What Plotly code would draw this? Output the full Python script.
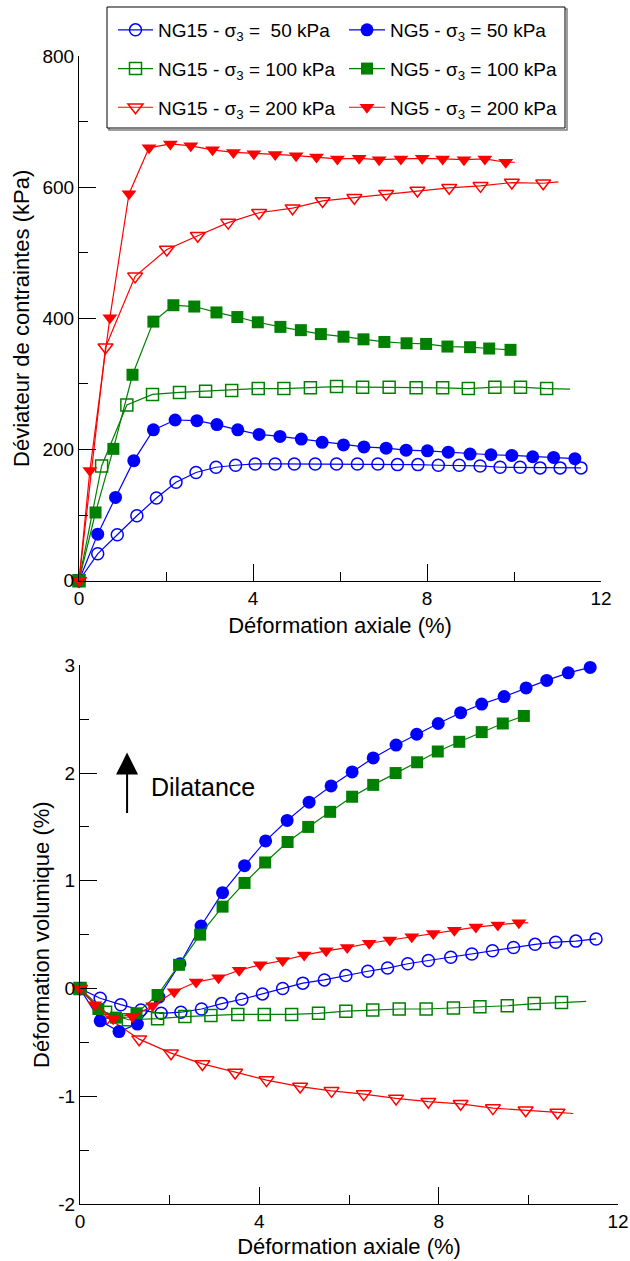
import plotly.graph_objects as go

# ---------------- Data: top chart (deviator stress, kPa) ----------------
ng15_50_x = [0, 0.43, 0.88, 1.33, 1.78, 2.23, 2.69, 3.15, 3.60, 4.05, 4.51, 4.95, 5.43, 5.92, 6.40, 6.87, 7.32, 7.79, 8.26, 8.74, 9.22, 9.68, 10.14, 10.60, 11.06, 11.54]
ng15_50_q = [0, 41, 70, 99, 126, 150, 165, 173, 176, 178, 178, 178, 178, 178, 178, 178, 177, 177, 176, 176, 175, 173, 173, 172, 172, 172]

ng15_100_x = [0, 0.52, 1.10, 1.69, 2.31, 2.91, 3.51, 4.12, 4.71, 5.32, 5.92, 6.52, 7.13, 7.75, 8.36, 8.95, 9.56, 10.15, 10.75]
ng15_100_q = [0, 175, 268, 284, 287, 289, 290, 293, 293, 294, 296, 295, 295, 294, 294, 293, 295, 295, 293]
ng15_100_q_end = (11.29, 292)

ng15_200_x = [0, 0.61, 1.29, 2.02, 2.73, 3.43, 4.14, 4.91, 5.60, 6.33, 7.06, 7.78, 8.51, 9.23, 9.95, 10.67]
ng15_200_q = [0, 356, 464, 505, 526, 546, 561, 568, 579, 584, 590, 595, 599, 602, 607, 606]
ng15_200_q_end = (11.02, 608)

ng5_50_x = [0, 0.43, 0.84, 1.26, 1.71, 2.21, 2.71, 3.17, 3.65, 4.14, 4.62, 5.11, 5.59, 6.08, 6.55, 7.06, 7.52, 8.01, 8.49, 8.99, 9.47, 9.95, 10.43, 10.91, 11.40]
ng5_50_q = [0, 71, 127, 183, 230, 245, 244, 238, 230, 223, 220, 216, 211, 207, 204, 202, 199, 198, 196, 193, 192, 191, 189, 188, 186]

ng5_100_x = [0, 0.38, 0.79, 1.23, 1.71, 2.17, 2.65, 3.16, 3.64, 4.11, 4.63, 5.10, 5.56, 6.08, 6.54, 7.02, 7.53, 7.98, 8.47, 8.99, 9.43, 9.92]
ng5_100_q = [0, 104, 201, 314, 395, 420, 418, 409, 402, 394, 387, 382, 376, 372, 368, 364, 362, 361, 357, 356, 354, 352]

ng5_200_x = [0, 0.25, 0.71, 1.15, 1.61, 2.10, 2.57, 3.07, 3.55, 4.02, 4.51, 4.99, 5.46, 5.94, 6.44, 6.90, 7.40, 7.89, 8.36, 8.85, 9.33, 9.81]
ng5_200_q = [0, 168, 401, 590, 660, 666, 663, 657, 653, 651, 650, 648, 646, 643, 644, 642, 643, 644, 643, 642, 643, 638]
ng5_200_q_end = (10.02, 638)

# ---------------- Data: bottom chart (volumetric strain, %) ----------------
ng15_50_ev_x = [0, 0.45, 0.91, 1.36, 1.81, 2.25, 2.71, 3.16, 3.61, 4.07, 4.52, 4.97, 5.45, 5.93, 6.42, 6.86, 7.31, 7.77, 8.27, 8.74, 9.20, 9.67, 10.15, 10.61, 11.06, 11.51]
ng15_50_ev = [0, -0.09, -0.15, -0.20, -0.23, -0.22, -0.19, -0.14, -0.10, -0.05, 0.00, 0.05, 0.08, 0.12, 0.16, 0.19, 0.23, 0.26, 0.29, 0.32, 0.35, 0.38, 0.41, 0.43, 0.44, 0.46]

ng15_100_ev_x = [0, 0.57, 1.08, 1.73, 2.34, 2.92, 3.52, 4.11, 4.72, 5.32, 5.93, 6.53, 7.12, 7.72, 8.33, 8.92, 9.53, 10.13, 10.74]
ng15_100_ev = [0, -0.22, -0.29, -0.28, -0.26, -0.25, -0.24, -0.24, -0.24, -0.23, -0.21, -0.20, -0.19, -0.19, -0.18, -0.17, -0.16, -0.14, -0.13]
ng15_100_ev_end = (11.29, -0.12)

ng15_200_ev_x = [0, 0.61, 1.32, 2.03, 2.73, 3.46, 4.16, 4.91, 5.61, 6.33, 7.05, 7.77, 8.49, 9.21, 9.94, 10.65]
ng15_200_ev = [0, -0.27, -0.47, -0.60, -0.70, -0.78, -0.85, -0.91, -0.95, -0.98, -1.02, -1.05, -1.07, -1.11, -1.13, -1.15]
ng15_200_ev_end = (11.0, -1.16)

ng5_50_ev_x = [0, 0.45, 0.87, 1.28, 1.76, 2.23, 2.70, 3.18, 3.67, 4.14, 4.62, 5.11, 5.60, 6.07, 6.54, 7.05, 7.51, 7.99, 8.49, 8.96, 9.46, 9.95, 10.41, 10.89, 11.38]
ng5_50_ev = [0, -0.30, -0.40, -0.33, -0.08, 0.23, 0.58, 0.89, 1.14, 1.37, 1.56, 1.73, 1.88, 2.01, 2.14, 2.26, 2.36, 2.46, 2.56, 2.64, 2.71, 2.79, 2.86, 2.93, 2.98]

ng5_100_ev_x = [0, 0.41, 0.80, 1.26, 1.73, 2.21, 2.68, 3.18, 3.67, 4.13, 4.63, 5.09, 5.58, 6.07, 6.54, 7.04, 7.52, 7.98, 8.46, 8.96, 9.43, 9.90]
ng5_100_ev = [0, -0.19, -0.27, -0.23, -0.06, 0.22, 0.50, 0.76, 0.98, 1.17, 1.36, 1.50, 1.64, 1.78, 1.89, 2.00, 2.10, 2.20, 2.29, 2.38, 2.46, 2.53]

ng5_200_ev_x = [0, 0.33, 0.74, 1.17, 1.62, 2.10, 2.59, 3.09, 3.55, 4.02, 4.52, 5.00, 5.49, 5.96, 6.45, 6.91, 7.40, 7.88, 8.35, 8.83, 9.32, 9.79]
ng5_200_ev = [0, -0.15, -0.28, -0.26, -0.16, -0.03, 0.06, 0.10, 0.17, 0.22, 0.26, 0.31, 0.35, 0.38, 0.42, 0.45, 0.48, 0.51, 0.54, 0.57, 0.59, 0.61]
ng5_200_ev_end = (10.0, 0.61)

# ---------------- Tick labels ----------------
x_ticks = [0, 4, 8, 12]
x_minor = [2, 6, 10]
q_ticks = [0, 200, 400, 600, 800]
q_minor = [100, 300, 500, 700]
ev_ticks = [-2, -1, 0, 1, 2, 3]
ev_ticktext = ["-2", "-1", "0", "1", "2", "3"]
ev_minor = [-1.5, -0.5, 0.5, 1.5, 2.5]

labels = {
    "ng15_50": "NG15 - σ<sub>3</sub> =  50 kPa",
    "ng15_100": "NG15 - σ<sub>3</sub> = 100 kPa",
    "ng15_200": "NG15 - σ<sub>3</sub> = 200 kPa",
    "ng5_50": "NG5 - σ<sub>3</sub> = 50 kPa",
    "ng5_100": "NG5 - σ<sub>3</sub> = 100 kPa",
    "ng5_200": "NG5 - σ<sub>3</sub> = 200 kPa",
}

BLUE, GREEN, RED = "#0000FF", "#008000", "#FF0000"
FONT = "Arial, Liberation Sans, sans-serif"

styles = {
    "ng15_50": dict(color=BLUE, symbol="circle-open", size=12, legend="legend"),
    "ng15_100": dict(color=GREEN, symbol="square-open", size=12, legend="legend"),
    "ng15_200": dict(color=RED, symbol="triangle-down-open", size=13, legend="legend"),
    "ng5_50": dict(color=BLUE, symbol="circle", size=13, legend="legend2"),
    "ng5_100": dict(color=GREEN, symbol="square", size=12, legend="legend2"),
    "ng5_200": dict(color=RED, symbol="triangle-down", size=13, legend="legend2"),
}

top_series = [
    ("ng15_50", ng15_50_x, ng15_50_q, None),
    ("ng15_100", ng15_100_x, ng15_100_q, ng15_100_q_end),
    ("ng15_200", ng15_200_x, ng15_200_q, ng15_200_q_end),
    ("ng5_50", ng5_50_x, ng5_50_q, None),
    ("ng5_100", ng5_100_x, ng5_100_q, None),
    ("ng5_200", ng5_200_x, ng5_200_q, ng5_200_q_end),
]
bottom_series = [
    ("ng15_50", ng15_50_ev_x, ng15_50_ev, None),
    ("ng15_100", ng15_100_ev_x, ng15_100_ev, ng15_100_ev_end),
    ("ng15_200", ng15_200_ev_x, ng15_200_ev, ng15_200_ev_end),
    ("ng5_50", ng5_50_ev_x, ng5_50_ev, None),
    ("ng5_100", ng5_100_ev_x, ng5_100_ev, None),
    ("ng5_200", ng5_200_ev_x, ng5_200_ev, ng5_200_ev_end),
]

W, H = 630, 1261


def px(xp):
    return xp / W


def py(yp):
    return 1 - yp / H


fig = go.Figure()


def add_series(series, xa, ya, show):
    for key, xs, ys, end in series:
        st = styles[key]
        if end is not None:
            fig.add_trace(go.Scatter(
                x=[xs[-1], end[0]], y=[ys[-1], end[1]], mode="lines",
                line=dict(color=st["color"], width=1.2), showlegend=False,
                xaxis=xa, yaxis=ya, hoverinfo="skip", cliponaxis=False))
        open_sym = st["symbol"].endswith("open")
        fig.add_trace(go.Scatter(
            x=xs, y=ys, mode="lines+markers", name=labels[key],
            legend=st["legend"], legendgroup=key, showlegend=show,
            line=dict(color=st["color"], width=1.2),
            marker=dict(symbol=st["symbol"], size=st["size"], color=st["color"],
                        line=dict(width=1.5 if open_sym else 0, color=st["color"])),
            xaxis=xa, yaxis=ya, cliponaxis=False))


add_series(top_series, "x", "y", True)
add_series(bottom_series, "x2", "y2", False)

axis_common = dict(
    showline=True, linecolor="black", linewidth=1, mirror=False,
    ticks="inside", ticklen=17, tickwidth=1, tickcolor="black",
    showgrid=False, zeroline=False,
    tickfont=dict(family=FONT, size=19, color="black"),
    minor=dict(ticks="inside", ticklen=9, tickwidth=1, tickcolor="black", showgrid=False),
    automargin=False,
)
TITLE_FONT = dict(family=FONT, size=22, color="black")

fig.update_layout(
    width=W, height=H,
    margin=dict(l=0, r=0, t=0, b=0),
    paper_bgcolor="white", plot_bgcolor="white",
    font=dict(family=FONT, size=19, color="black"),
    xaxis=dict(axis_common, domain=[px(79), px(601)], range=[0, 12], tickvals=x_ticks,
               minor=dict(axis_common["minor"], tickvals=x_minor), anchor="y",
               title=dict(text="Déformation axiale (%)", font=TITLE_FONT, standoff=10)),
    yaxis=dict(axis_common, domain=[py(580.7), py(56)], range=[0, 800],
               tickvals=q_ticks,
               minor=dict(axis_common["minor"], tickvals=q_minor), anchor="x",
               title=dict(text="Déviateur de contraintes (kPa)", font=TITLE_FONT, standoff=6)),
    xaxis2=dict(axis_common, domain=[px(80), px(618)], range=[0, 12], tickvals=x_ticks,
                minor=dict(axis_common["minor"], tickvals=x_minor), anchor="y2",
                title=dict(text="Déformation axiale (%)", font=TITLE_FONT, standoff=7)),
    yaxis2=dict(axis_common, domain=[py(1204), py(665.3)], range=[-2, 3],
                tickvals=ev_ticks, ticktext=ev_ticktext,
                minor=dict(axis_common["minor"], tickvals=ev_minor), anchor="x2",
                title=dict(text="Déformation volumique (%)", font=TITLE_FONT, standoff=2)),
    legend=dict(x=px(113), y=py(11), xanchor="left", yanchor="top", itemwidth=35,
                bgcolor="rgba(0,0,0,0)", borderwidth=0, tracegroupgap=11,
                font=dict(family=FONT, size=19, color="black")),
    legend2=dict(x=px(344), y=py(11), xanchor="left", yanchor="top", itemwidth=36,
                 bgcolor="rgba(0,0,0,0)", borderwidth=0, tracegroupgap=11,
                 font=dict(family=FONT, size=19, color="black")),
    showlegend=True,
)

# legend frame with shadow
fig.add_shape(type="rect", xref="paper", yref="paper",
              x0=px(109), x1=px(567), y0=py(130), y1=py(9),
              line=dict(color="#808080", width=1.5), fillcolor="rgba(0,0,0,0)", layer="below")
fig.add_shape(type="rect", xref="paper", yref="paper",
              x0=px(107), x1=px(565), y0=py(128), y1=py(7),
              line=dict(color="black", width=1), fillcolor="white", layer="below")

# Dilatance arrow and label
fig.add_annotation(x=1.05, y=2.19, xref="x2", yref="y2", text="", showarrow=True,
                   ax=0, ay=62, axref="pixel", ayref="pixel",
                   arrowhead=2, arrowsize=2.2, arrowwidth=2, arrowcolor="black", standoff=0)
fig.add_annotation(x=1.54, y=1.87, xref="x2", yref="y2", text="Dilatance", showarrow=False,
                   xanchor="left", yanchor="middle", font=dict(family=FONT, size=25, color="black"))

fig.write_html(
    "out.html",
    config={"displayModeBar": False},
    post_script="document.body.style.margin='0';document.body.style.overflow='hidden';",
)
